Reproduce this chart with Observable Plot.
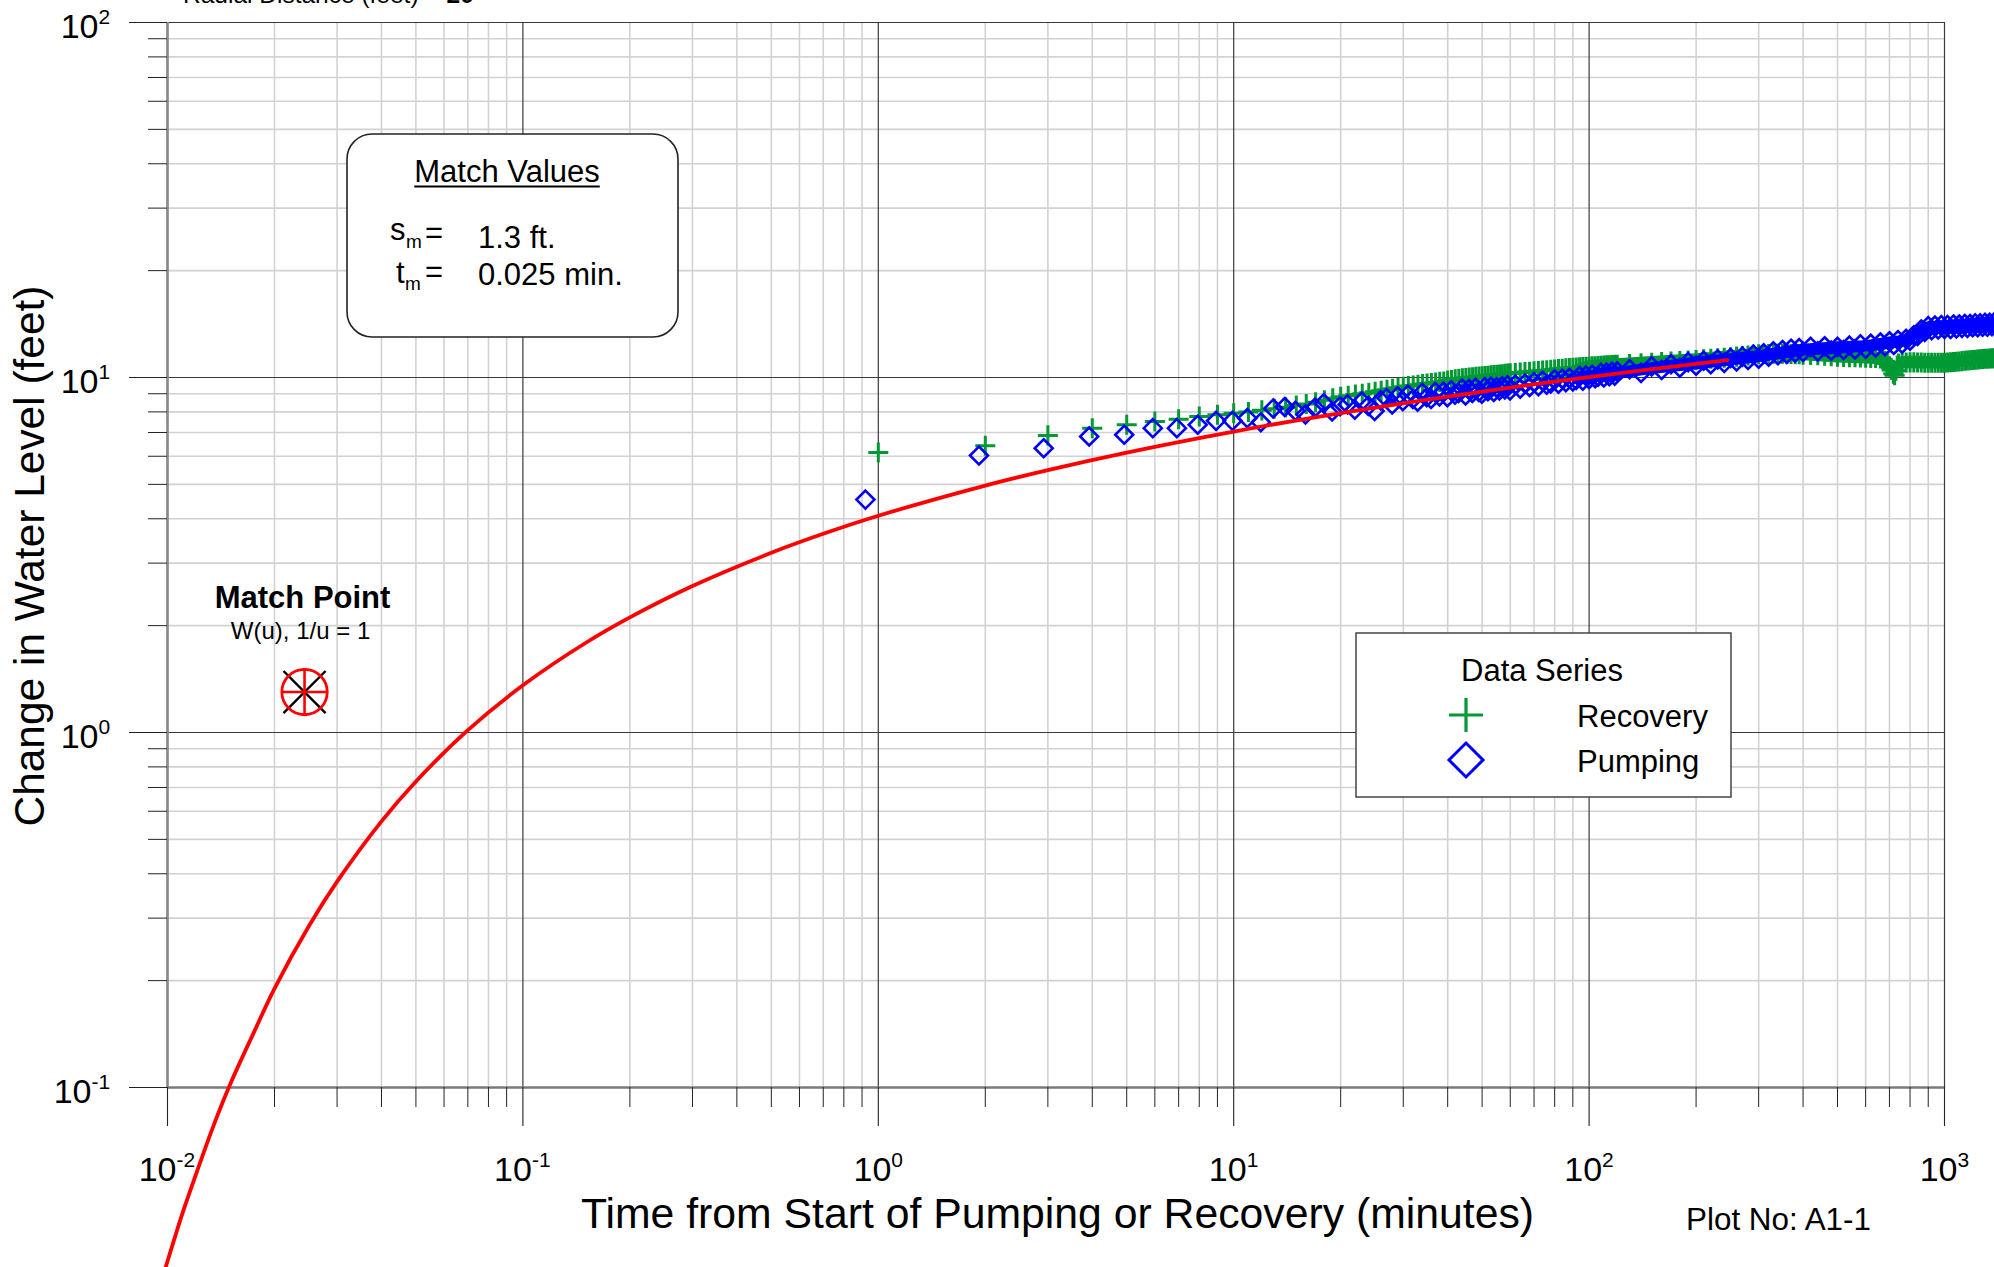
<!DOCTYPE html>
<html><head><meta charset="utf-8">
<script src="https://cdn.jsdelivr.net/npm/d3@7"></script>
<script src="https://cdn.jsdelivr.net/npm/@observablehq/plot@0.6"></script>
<style>
html,body{margin:0;padding:0;background:#fff;}
#chart svg{display:block;}
</style></head><body><div id="chart"></div>
<script>
const FONT = "'Liberation Sans', Arial, Helvetica, sans-serif";

// ---- Recovery series (green plus) ----
const recoveryTime = [1,2,3,4,5,6,7,8,9,10,11,12,13,14,15,16,17,18,19,20,21,22,23,24,25,26,27,28,29,30,31,32,33,34,35,36,37,38,39,40,41,42,43,44,45,46,47,48,49,50,51,52,53,54,55,56,57,58,59,60,
62,64,66,68,70,72,74,76,78,80,82,84,86,88,90,92,94,96,98,100,102,104,106,108,110,112,114,116,118,120,
130,140,150,160,170,180,190,200,210,220,230,240,250,260,270,280,290,300,310,320,330,340,350,360,370,380,390,400,
420,440,460,480,500,520,540,560,580,600,620,640,660,
670,680,690,700,710,718,724,730,736,742,
760,780,800,820,840,860,880,900,920,940,960,980,1000,1020,1040,1060,1080,1100,1120,1140,1160,1180,1200,1220,1240,1260,1280,1300,1320,1340,1360,1380,1400];
const recoveryLevel = [6.15,6.42,6.87,7.20,7.36,7.52,7.63,7.77,7.85,7.93,8.00,8.08,8.16,
8.25,8.34,8.42,8.52,8.63,8.74,8.82,8.88,8.95,9.00,9.06,9.12,9.18,9.24,9.30,9.36,9.42,9.46,9.50,9.54,9.58,9.62,9.65,9.68,9.72,9.75,9.80,9.84,9.88,9.92,9.95,9.97,10.00,10.02,10.04,10.06,10.08,10.10,10.12,10.14,10.16,10.18,10.20,10.22,10.24,10.26,10.28,
10.30,10.33,10.36,10.38,10.41,10.43,10.46,10.48,10.51,10.53,10.56,10.58,10.61,10.63,10.65,10.67,10.69,10.70,10.72,10.73,10.75,10.76,10.78,10.79,10.80,10.82,10.83,10.84,10.86,10.87,
10.92,10.97,11.01,11.05,11.09,11.13,11.17,11.21,11.25,11.29,11.33,11.37,11.41,11.45,11.49,11.53,11.58,11.62,11.64,11.65,11.66,11.66,11.66,11.65,11.64,11.63,11.62,11.60,
11.58,11.55,11.52,11.48,11.45,11.43,11.41,11.40,11.38,11.37,11.35,11.34,11.31,
11.25,11.12,10.95,10.75,10.50,10.25,10.15,10.45,10.80,10.95,
11.00,11.02,11.03,11.03,11.02,11.02,11.01,11.00,11.00,11.00,11.00,11.00,11.00,11.02,11.04,11.06,11.08,11.10,11.12,11.14,11.16,11.18,11.20,11.22,11.24,11.26,11.28,11.29,11.30,11.31,11.32,11.33,11.34];

// solid core of the dense recovery band (read as low / high edges)
const recoveryBandTime = [90,100,150,200,300,400,500,600,660,670,680,690,700,710,718,724,730,736,742,760,800,1000,1200,1400];
const recoveryBandLow  = [10.50,10.30,10.57,10.76,11.16,11.14,10.99,10.92,10.86,10.80,10.68,10.51,10.32,10.08,9.84,9.74,10.03,10.37,10.51,10.56,10.59,10.56,10.75,10.89];
const recoveryBandHigh = [10.80,11.16,11.45,11.66,12.08,12.06,11.91,11.82,11.76,11.70,11.56,11.39,11.18,10.92,10.66,10.56,10.87,11.23,11.39,11.44,11.47,11.44,11.65,11.79];

// ---- Pumping series (blue diamond) ----
const pumpingTime = [0.92,1.92,2.92,3.92,4.92,5.92,6.92,7.92,8.92,9.92,10.92,11.92,12.92,13.92,14.92,15.92,16.92,17.92,18.92,19.92,20.92,21.92,22.92,23.92,24.92,25.92,26.92,27.92,28.92,29.92,30.92,31.92,32.92,33.92,34.92,35.92,36.92,37.92,38.92,39.92,40.92,41.92,42.92,43.92,44.92,45.92,46.92,47.92,48.92,49.92,50.92,51.92,52.92,53.92,54.92,55.92,56.92,57.92,58.92,59.92,
62,64,66,68,70,72,74,76,78,80,82,84,86,88,90,92,94,96,98,100,102,104,106,108,110,112,114,116,118,120,
130,140,150,160,170,180,190,200,210,220,230,240,250,260,270,280,290,300,310,320,330,340,350,360,370,380,390,400,
420,440,460,480,500,520,540,560,580,600,620,640,660,680,700,720,740,760,780,800,820,840,860,880,900,920,940,960,980,1000,1020,1040,1060,1080,1100,1120,1140,1160,1180,1200,1220,1240,1260,1280,1300,1320,1340,1360,1380,1400];
const pumpingLevel = [4.53,6.03,6.32,6.82,6.90,7.20,7.20,7.36,7.55,7.55,7.68,7.48,
8.18,8.26,8.05,7.87,8.22,8.46,8.02,8.30,8.40,8.12,8.56,8.32,8.05,8.62,8.75,8.40,8.85,8.58,8.95,8.70,8.55,9.05,8.80,8.70,9.10,8.85,9.12,8.80,9.20,8.95,9.05,9.30,8.90,9.28,9.05,9.35,9.10,9.00,9.40,9.15,9.42,9.10,9.38,9.20,9.45,9.25,9.50,9.20,
9.55,9.30,9.62,9.40,9.70,9.45,9.78,9.55,9.62,9.88,9.60,9.92,9.70,9.98,9.75,9.85,10.10,9.80,10.12,9.90,10.18,9.95,10.05,10.30,10.00,10.32,10.08,10.38,10.12,10.40,
10.55,10.30,10.75,10.50,10.90,10.65,11.05,10.80,11.15,10.90,11.25,11.00,11.35,11.10,11.45,11.20,11.60,11.30,11.70,11.45,11.85,11.55,11.95,11.65,12.05,11.75,12.10,11.80,
12.20,11.85,12.25,11.90,12.20,11.95,12.30,12.00,12.40,12.05,12.45,12.15,12.55,12.25,12.65,12.35,12.75,12.45,12.85,12.70,13.15,13.10,13.65,13.45,13.95,13.60,14.00,13.65,14.05,13.70,14.05,13.70,14.10,13.75,14.10,13.80,14.15,13.80,14.15,13.85,14.20,13.85,14.20,13.90,14.25,13.90,14.25,13.95,14.30,13.95];

// solid core of the dense pumping band (read as low / high edges)
const pumpingBandTime = [90,100,150,200,300,400,500,600,700,780,820,860,900,1000,1400];
const pumpingBandLow  = [9.70,9.60,10.20,10.50,11.00,11.50,11.60,11.80,12.00,12.20,12.60,13.00,13.30,13.35,13.55];
const pumpingBandHigh = [10.05,10.40,11.00,11.40,11.90,12.40,12.60,12.70,13.00,13.15,13.60,14.10,14.35,14.45,14.65];

// ---- Theis type curve (red) ----
const curveTime = [0.0095,0.01,0.011,0.012,0.0135,0.015,0.0175,0.02,0.025,0.03,0.04,0.05,0.07,0.1,0.15,0.2,0.3,0.5,0.7,1,2,3,5,10,20,50,100,245];
const curveLevel = [0.0273,0.0324,0.0440,0.0566,0.0785,0.102,0.143,0.190,0.285,0.380,0.562,0.728,1.015,1.358,1.787,2.110,2.586,3.208,3.628,4.078,4.962,5.484,6.144,7.042,7.941,9.131,10.03,11.20];

// ---- Match point ----
const matchTime = [0.0243];
const matchLevel = [1.3];

// ---- Ticks ----
const xMajorTicks = [0.01,0.1,1,10,100,1000];
const xTickExponents = ["-2","-1","0","1","2","3"];
const xMinorTicks = [0.02,0.03,0.04,0.05,0.06,0.07,0.08,0.09,0.2,0.3,0.4,0.5,0.6,0.7,0.8,0.9,2,3,4,5,6,7,8,9,20,30,40,50,60,70,80,90,200,300,400,500,600,700,800,900];
const yMajorTicks = [0.1,1,10,100];
const yTickExponents = ["-1","0","1","2"];
const yMinorTicks = [0.2,0.3,0.4,0.5,0.6,0.7,0.8,0.9,2,3,4,5,6,7,8,9,20,30,40,50,60,70,80,90];

// ---- Texts ----
const xTitle = "Time from Start of Pumping or Recovery (minutes)";
const yTitle = "Change in Water Level (feet)";
const plotNo = "Plot No: A1-1";
const seriesNames = ["Recovery","Pumping"];
const legendTitle = "Data Series";

const recovery = recoveryTime.map((t, i) => ({t, s: recoveryLevel[i]}));
const pumping = pumpingTime.map((t, i) => ({t, s: pumpingLevel[i]}));
const recoveryBand = recoveryBandTime.map((t, i) => ({t, lo: recoveryBandLow[i], hi: recoveryBandHigh[i]}));
const pumpingBand = pumpingBandTime.map((t, i) => ({t, lo: pumpingBandLow[i], hi: pumpingBandHigh[i]}));
const curve = curveTime.map((t, i) => ({t, s: curveLevel[i]}));
const matchPoint = matchTime.map((t, i) => ({t, s: matchLevel[i]}));
const xLabels = xMajorTicks.map((v, i) => ({v, e: xTickExponents[i]}));
const yLabels = yMajorTicks.map((v, i) => ({v, e: yTickExponents[i]}));
const isNeg = d => d.e.startsWith("-");
const xNeg = xLabels.filter(isNeg), xPos = xLabels.filter(d => !isNeg(d));
const yNeg = yLabels.filter(isNeg), yPos = yLabels.filter(d => !isNeg(d));

const GREEN = "#009933", BLUE = "#0000ff", RED = "#ff0000";
const noText = () => "";

const chart = Plot.plot({
  width: 1994, height: 1267,
  marginLeft: 167, marginRight: 50, marginTop: 22, marginBottom: 180,
  x: {type: "log", domain: [xMajorTicks[0], xMajorTicks[xMajorTicks.length - 1]], label: null},
  y: {type: "log", domain: [yMajorTicks[0], yMajorTicks[yMajorTicks.length - 1]], label: null},
  style: {fontFamily: FONT, background: "#fff", color: "#000"},
  marks: [
    Plot.ruleX(xMinorTicks, {stroke: "#d2d2d2", strokeWidth: 1.6}),
    Plot.ruleY(yMinorTicks, {stroke: "#d2d2d2", strokeWidth: 1.6}),
    Plot.ruleX(xMajorTicks, {stroke: "#3a3a3a", strokeWidth: 1.2}),
    Plot.ruleY(yMajorTicks, {stroke: "#3a3a3a", strokeWidth: 1.2}),
    Plot.ruleX([xMajorTicks[0]], {stroke: "#8a8a8a", strokeWidth: 2.6}),
    Plot.ruleY([yMajorTicks[0]], {stroke: "#7a7a7a", strokeWidth: 2.6}),
    Plot.axisX(xMajorTicks, {anchor: "bottom", tickSize: 39, tickFormat: noText, stroke: "#222", strokeWidth: 1.1, label: null}),
    Plot.axisX(xMinorTicks, {anchor: "bottom", tickSize: 20, tickFormat: noText, stroke: "#222", strokeWidth: 1, label: null}),
    Plot.axisY(yMajorTicks, {anchor: "left", tickSize: 38, tickFormat: noText, stroke: "#222", strokeWidth: 1.1, label: null}),
    Plot.axisY(yMinorTicks, {anchor: "left", tickSize: 19, tickFormat: noText, stroke: "#222", strokeWidth: 1, label: null}),
    // tick labels
    Plot.text(xPos, {x: "v", text: () => "10", frameAnchor: "bottom", textAnchor: "end", lineAnchor: "bottom", dx: 13, dy: 93, fontSize: 34, fill: "#000"}),
    Plot.text(xPos, {x: "v", text: "e", frameAnchor: "bottom", textAnchor: "start", lineAnchor: "bottom", dx: 13, dy: 79, fontSize: 21, fill: "#000"}),
    Plot.text(xNeg, {x: "v", text: () => "10", frameAnchor: "bottom", textAnchor: "end", lineAnchor: "bottom", dx: 9, dy: 93, fontSize: 34, fill: "#000"}),
    Plot.text(xNeg, {x: "v", text: "e", frameAnchor: "bottom", textAnchor: "start", lineAnchor: "bottom", dx: 9, dy: 79, fontSize: 21, fill: "#000"}),
    Plot.text(yPos, {y: "v", text: () => "10", frameAnchor: "left", textAnchor: "end", lineAnchor: "bottom", dx: -69, dy: 15, fontSize: 34, fill: "#000"}),
    Plot.text(yPos, {y: "v", text: "e", frameAnchor: "left", textAnchor: "start", lineAnchor: "bottom", dx: -69, dy: 1, fontSize: 21, fill: "#000"}),
    Plot.text(yNeg, {y: "v", text: () => "10", frameAnchor: "left", textAnchor: "end", lineAnchor: "bottom", dx: -76, dy: 15, fontSize: 34, fill: "#000"}),
    Plot.text(yNeg, {y: "v", text: "e", frameAnchor: "left", textAnchor: "start", lineAnchor: "bottom", dx: -76, dy: 1, fontSize: 21, fill: "#000"}),
    // data
    Plot.areaY(recoveryBand, {x: "t", y1: "lo", y2: "hi", fill: GREEN}),
    Plot.dot(recovery, {x: "t", y: "s", symbol: "plus", r: 6.5, stroke: GREEN, strokeWidth: 3, fill: "none"}),
    Plot.areaY(pumpingBand, {x: "t", y1: "lo", y2: "hi", fill: BLUE}),
    Plot.dot(pumping, {x: "t", y: "s", symbol: "diamond2", r: 8.1, stroke: BLUE, strokeWidth: 2.6, fill: "none"}),
    Plot.line(curve, {x: "t", y: "s", stroke: RED, strokeWidth: 3.8, curve: "catmull-rom"}),
    // match point
    Plot.dot(matchPoint, {x: "t", y: "s", symbol: "times", r: 19.2, stroke: "#000", strokeWidth: 2.4, fill: "none"}),
    Plot.dot(matchPoint, {x: "t", y: "s", symbol: "circle", r: 22.7, stroke: RED, strokeWidth: 2.8, fill: "none"}),
    Plot.dot(matchPoint, {x: "t", y: "s", symbol: "plus", r: 14.65, stroke: RED, strokeWidth: 2.6, fill: "none"}),
    Plot.text(matchPoint, {x: "t", y: "s", text: () => "Match Point", lineAnchor: "bottom", dx: -2, dy: -84, fontSize: 31, fontWeight: "bold", fill: "#000"}),
    Plot.text(matchPoint, {x: "t", y: "s", text: () => "W(u), 1/u = 1", lineAnchor: "bottom", dx: -4, dy: -53, fontSize: 24, fill: "#000"})
  ]
});
document.getElementById("chart").appendChild(chart);

// ---- annotations: boxes, legend and titles ----
const svg = d3.select(chart);
const g = svg.append("g").attr("font-family", FONT).attr("fill", "#000").attr("text-anchor", "start");

// clipped header text at the very top
const hdr = g.append("text").attr("x", 183).attr("y", 2.5).attr("font-size", 24.5);
hdr.append("tspan").text("Radial Distance (feet) = ");
hdr.append("tspan").attr("font-weight", "bold").text("20");

// Match Values box
g.append("rect").attr("x", 347).attr("y", 134).attr("width", 331).attr("height", 203)
  .attr("rx", 25).attr("ry", 25).attr("fill", "#fff").attr("stroke", "#222").attr("stroke-width", 1.6);
const mv = g.append("text").attr("x", 507).attr("y", 182).attr("text-anchor", "middle").attr("font-size", 31).text("Match Values");
const mvw = mv.node().getComputedTextLength();
g.append("line").attr("x1", 507 - mvw / 2).attr("x2", 507 + mvw / 2).attr("y1", 186.5).attr("y2", 186.5)
  .attr("stroke", "#000").attr("stroke-width", 2.2);
g.append("text").attr("x", 390).attr("y", 240).attr("font-size", 31).text("s");
g.append("text").attr("x", 406).attr("y", 248).attr("font-size", 19).text("m");
g.append("text").attr("x", 425).attr("y", 243).attr("font-size", 31).text("=");
g.append("text").attr("x", 478).attr("y", 248).attr("font-size", 31).text("1.3 ft.");
g.append("text").attr("x", 396).attr("y", 283).attr("font-size", 31).text("t");
g.append("text").attr("x", 405).attr("y", 290).attr("font-size", 19).text("m");
g.append("text").attr("x", 425).attr("y", 282).attr("font-size", 31).text("=");
g.append("text").attr("x", 478).attr("y", 285).attr("font-size", 31).text("0.025 min.");

// Legend
g.append("rect").attr("x", 1356).attr("y", 633).attr("width", 375).attr("height", 164)
  .attr("fill", "#fff").attr("stroke", "#444").attr("stroke-width", 1.5);
g.append("text").attr("x", 1461).attr("y", 681).attr("font-size", 31).text(legendTitle);
g.append("path").attr("d", "M1449,715H1483M1466,698V732").attr("stroke", GREEN).attr("stroke-width", 3.2).attr("fill", "none");
g.append("path").attr("d", "M1466,743L1483,760L1466,777L1449,760Z").attr("stroke", BLUE).attr("stroke-width", 3).attr("fill", "none");
g.append("text").attr("x", 1577).attr("y", 727).attr("font-size", 31).text(seriesNames[0]);
g.append("text").attr("x", 1577).attr("y", 772).attr("font-size", 31).text(seriesNames[1]);

// Axis titles
g.append("text").attr("x", 581).attr("y", 1228).attr("font-size", 43)
  .attr("textLength", 953).attr("lengthAdjust", "spacingAndGlyphs").text(xTitle);
g.append("text").attr("x", 1686).attr("y", 1230).attr("font-size", 31)
  .attr("textLength", 185).attr("lengthAdjust", "spacingAndGlyphs").text(plotNo);
g.append("text").attr("transform", "translate(44,556) rotate(-90)").attr("text-anchor", "middle").attr("font-size", 42)
  .attr("textLength", 541).attr("lengthAdjust", "spacingAndGlyphs").text(yTitle);
</script>
</body></html>
